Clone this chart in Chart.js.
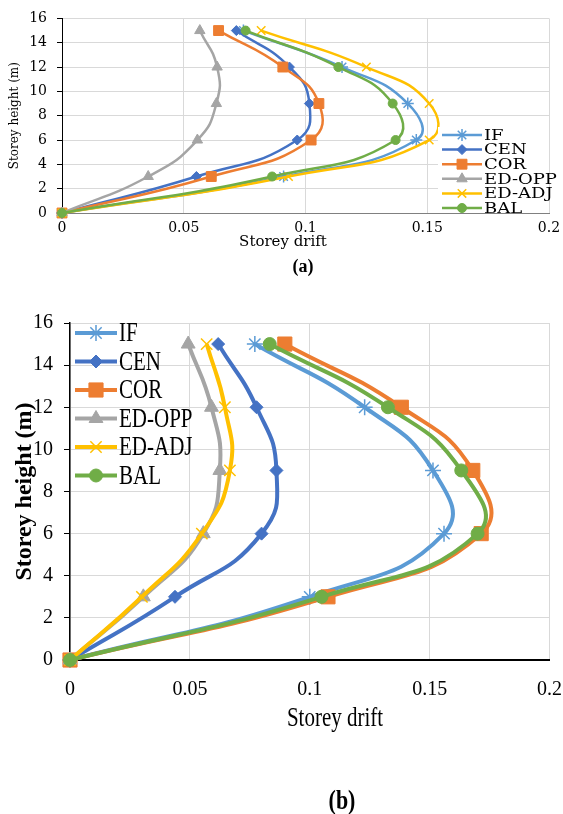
<!DOCTYPE html>
<html>
<head>
<meta charset="utf-8">
<script src="https://cdn.jsdelivr.net/npm/chart.js@4.4.1/dist/chart.umd.min.js"></script>
<style>
  body { margin: 0; background: #fff; width: 563px; height: 814px; position: relative; overflow: hidden; }
  canvas { position: absolute; left: 0; }
  .lbl { position: absolute; white-space: nowrap; color: #000; }
</style>
</head>
<body>
<canvas id="chartA" width="563" height="250" style="top:0"></canvas>
<canvas id="chartB" width="563" height="440" style="top:300px"></canvas>
<div class="lbl" style="left:283px;top:241px;font:15px 'DejaVu Serif';transform:translate(-50%,-50%)">Storey drift</div>
<div class="lbl" style="left:303px;top:266px;font:bold 18px 'Liberation Serif';transform:translate(-50%,-50%)">(a)</div>
<div class="lbl" style="left:335px;top:718px;font:21px 'Liberation Serif';transform:translate(-50%,-50%) scaleY(1.25)">Storey drift</div>
<div class="lbl" style="left:342px;top:801px;font:bold 22px 'Liberation Serif';transform:translate(-50%,-50%) scaleY(1.2)">(b)</div>
<script>
// Data
const heights = [0, 3, 6, 9, 12, 15];
const seriesNames = ["IF", "CEN", "COR", "ED-OPP", "ED-ADJ", "BAL"];
const xTicks = [0, 0.05, 0.1, 0.15, 0.2];
const yTicks = [0, 2, 4, 6, 8, 10, 12, 14, 16];

// chart (a)
const aIF    = [0, 0.091, 0.1455, 0.142, 0.115, 0.0745];
const aCEN   = [0, 0.0552, 0.0966, 0.1016, 0.0934, 0.0716];
const aCOR   = [0, 0.0613, 0.1023, 0.1055, 0.0907, 0.0643];
const aEDOPP = [0, 0.0354, 0.0556, 0.0634, 0.0637, 0.0566];
const aEDADJ = [0, 0.093, 0.1508, 0.1508, 0.125, 0.0818];
const aBAL   = [0, 0.0863, 0.137, 0.1358, 0.1135, 0.0754];

// chart (b)
const bIF    = [0, 0.100, 0.156, 0.1514, 0.1229, 0.0771];
const bCEN   = [0, 0.0438, 0.0799, 0.0861, 0.0778, 0.0618];
const bCOR   = [0, 0.1076, 0.1715, 0.168, 0.1382, 0.0896];
const bEDOPP = [0, 0.0306, 0.0556, 0.0625, 0.059, 0.0493];
const bEDADJ = [0, 0.030, 0.055, 0.0667, 0.0646, 0.057];
const bBAL   = [0, 0.1049, 0.170, 0.1632, 0.1326, 0.0833];

// Styles
const colors = ["#5B9BD5", "#4472C4", "#ED7D31", "#A5A5A5", "#FFC000", "#70AD47"];
const markers = ["star", "rectRot", "rect", "triangle", "crossRot", "circle"];
const lineMarkers = ["star", "crossRot"];

function makeSets(list, radii, lineWidth) {
  return seriesNames.map((name, i) => ({
    label: name,
    data: heights.map((h, k) => ({ x: list[i][k], y: h })),
    borderColor: colors[i],
    backgroundColor: colors[i],
    pointBackgroundColor: colors[i],
    pointBorderColor: colors[i],
    pointStyle: markers[i],
    pointRadius: radii[i],
    pointBorderWidth: lineMarkers.includes(markers[i]) ? 1.5 : 1,
    borderWidth: lineWidth,
    tension: 0.5,
    order: 5 - i,
    clip: false
  }));
}

// Legend drawn inside the plot
const legendBox = {
  id: "legendBox",
  afterDatasetsDraw(chart, args, o) {
    const ctx = chart.ctx;
    if (o.bg) {
      ctx.save();
      ctx.fillStyle = "#fff";
      ctx.fillRect(o.bg[0], o.bg[1], o.bg[2], o.bg[3]);
      ctx.restore();
    }
    chart.data.datasets.forEach((ds, i) => {
      const y = o.y + i * o.gap;
      ctx.save();
      ctx.strokeStyle = ds.borderColor;
      ctx.lineWidth = ds.borderWidth;
      ctx.beginPath();
      ctx.moveTo(o.x, y);
      ctx.lineTo(o.x + o.len, y);
      ctx.stroke();
      ctx.fillStyle = ds.pointBackgroundColor;
      ctx.strokeStyle = ds.pointBorderColor;
      ctx.lineWidth = ds.pointBorderWidth;
      if (Chart.helpers && Chart.helpers.drawPoint) {
        Chart.helpers.drawPoint(ctx, { pointStyle: ds.pointStyle, radius: ds.pointRadius, borderWidth: ds.pointBorderWidth, rotation: 0 }, o.x + o.len / 2, y);
      }
      ctx.fillStyle = "#000";
      ctx.font = o.font;
      ctx.textBaseline = "middle";
      ctx.textAlign = "left";
      ctx.translate(o.x + o.len + 2, y);
      ctx.scale(o.sx, o.sy);
      ctx.fillText(ds.label, 0, 1);
      ctx.restore();
    });
  }
};

function setTicks(list) {
  return s => { s.ticks = list.map(v => ({ value: v })); };
}

// Chart (a)
new Chart(document.getElementById("chartA"), {
  type: "line",
  data: { datasets: makeSets([aIF, aCEN, aCOR, aEDOPP, aEDADJ, aBAL], [6, 5, 7, 6, 6, 4.5], 2.5) },
  options: {
    responsive: false,
    animation: false,
    events: [],
    layout: { padding: { top: 16.5, right: 14, left: 0, bottom: 0 } },
    plugins: {
      legend: { display: false },
      tooltip: { enabled: false },
      legendBox: { x: 442, y: 135, gap: 14.6, len: 40, font: "15px 'DejaVu Serif'", sx: 1.2, sy: 1, bg: [438, 127, 111, 85] }
    },
    scales: {
      x: {
        type: "linear", min: 0, max: 0.2,
        afterBuildTicks: setTicks(xTicks),
        afterFit: s => { s.height = 37; },
        grid: { color: "#d9d9d9", drawTicks: true, tickLength: 5, tickColor: "rgba(0,0,0,0)" },
        border: { color: "#808080", width: 1 },
        ticks: { padding: 2, color: "#000", maxRotation: 0, autoSkip: false, font: { family: "DejaVu Serif", size: 14 }, callback: v => String(v) }
      },
      y: {
        type: "linear", min: 0, max: 16,
        afterBuildTicks: setTicks(yTicks),
        afterFit: s => { s.width = 62; },
        grid: { color: "#d9d9d9", tickLength: 5, tickColor: "#000" },
        border: { color: "#000", width: 1 },
        ticks: { padding: 10, color: "#000", autoSkip: false, font: { family: "DejaVu Serif", size: 14 }, callback: v => String(v) },
        title: { display: true, text: "Storey height (m)", color: "#000", font: { family: "DejaVu Serif", size: 12 }, padding: { top: 8, bottom: 0 } }
      }
    }
  },
  plugins: [legendBox]
});

// Chart (b)
new Chart(document.getElementById("chartB"), {
  type: "line",
  data: { datasets: makeSets([bIF, bCEN, bCOR, bEDOPP, bEDADJ, bBAL], [8, 6.5, 10, 8, 8, 6.5], 4) },
  options: {
    responsive: false,
    animation: false,
    events: [],
    layout: { padding: { top: 20, right: 13, left: 0, bottom: 0 } },
    plugins: {
      legend: { display: false },
      tooltip: { enabled: false },
      legendBox: { x: 75, y: 33, gap: 28.5, len: 42, font: "21px 'Liberation Serif'", sx: 1, sy: 1.25 }
    },
    scales: {
      x: {
        type: "linear", min: 0, max: 0.2,
        afterBuildTicks: setTicks(xTicks),
        afterFit: s => { s.height = 80; },
        grid: { color: "#d9d9d9", drawTicks: true, tickLength: 17, tickColor: "rgba(0,0,0,0)" },
        border: { color: "#000", width: 2 },
        ticks: { padding: 1, color: "#000", maxRotation: 0, autoSkip: false, font: { family: "Liberation Serif", size: 20 }, callback: v => String(v) }
      },
      y: {
        type: "linear", min: 0, max: 16,
        afterBuildTicks: setTicks(yTicks),
        afterFit: s => { s.width = 70; },
        grid: { color: "#d9d9d9", tickLength: 6, tickColor: "#000" },
        border: { color: "#000", width: 1.5 },
        ticks: { padding: 11, color: "#000", autoSkip: false, font: { family: "Liberation Serif", size: 20 }, callback: v => String(v) },
        title: { display: true, text: "Storey height (m)", color: "#000", font: { family: "Liberation Serif", size: 24, weight: "bold" }, padding: { top: 10, bottom: 0 } }
      }
    }
  },
  plugins: [legendBox]
});
</script>
</body>
</html>
